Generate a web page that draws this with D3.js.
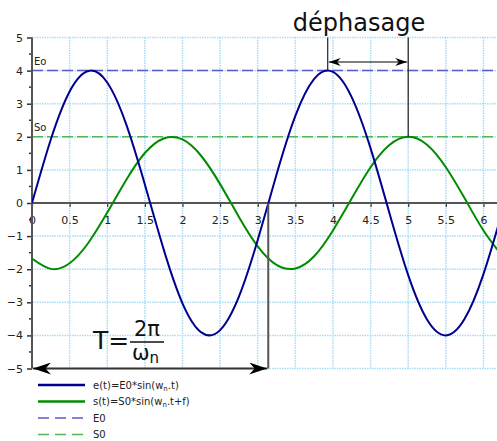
<!DOCTYPE html>
<html><head><meta charset="utf-8">
<script src="https://cdn.jsdelivr.net/npm/d3@7/dist/d3.min.js"></script>
<style>body{margin:0;background:#fff}svg{display:block;font-family:"DejaVu Sans",sans-serif}</style>
</head><body><svg id="c" width="497" height="441"></svg>
<script>
// data
const tValues = [0,0.25,0.5,0.75,1,1.25,1.5,1.75,2,2.25,2.5,2.75,3,3.25,3.5,3.75,4,4.25,4.5,4.75,5,5.25,5.5,5.75,6,6.25];
const eValues = [0,1.92,3.37,3.99,3.64,2.39,0.56,-1.40,-3.03,-3.91,-3.84,-2.83,-1.12,0.86,2.63,3.75,3.96,3.19,1.65,-0.30,-2.18,-3.52,-4.00,-3.50,-2.15,-0.26];
const sValues = [-1.68,-1.99,-1.82,-1.20,-0.29,0.69,1.51,1.95,1.92,1.42,0.57,-0.42,-1.31,-1.87,-1.98,-1.61,-0.83,0.14,1.08,1.75,2.00,1.76,1.08,0.14,-0.83,-1.60];
const E0 = 4, S0 = 2;
const xTicks = [0,0.5,1,1.5,2,2.5,3,3.5,4,4.5,5,5.5,6];
const yTicks = [-5,-4,-3,-2,-1,0,1,2,3,4,5];
const periodT = 3.14;          // T marker
const phaseStart = 3.93, phaseEnd = 5.0; // déphasage marker
const legendLabels = ["e(t)=E0*sin(w|n|.t)","s(t)=S0*sin(w|n|.t+f)","E0","S0"];

const svg = d3.select("#c");
const x = d3.scaleLinear().domain([0, 6.18]).range([32, 497]);
const y = d3.scaleLinear().domain([-5, 5]).range([368.5, 37.5]);

const defs = svg.append("defs");
defs.append("clipPath").attr("id","clip").append("rect")
  .attr("x",32).attr("y",30).attr("width",465).attr("height",345);
function arrow(id, w, h){
  const m = defs.append("marker").attr("id",id).attr("viewBox",`0 0 ${w} ${h}`)
   .attr("refX",w).attr("refY",h/2).attr("markerWidth",w).attr("markerHeight",h)
   .attr("markerUnits","userSpaceOnUse").attr("orient","auto-start-reverse");
  m.append("path").attr("d",`M0,0 L${w},${h/2} L0,${h} L${w*0.3},${h/2}Z`).attr("fill","#000");
}
arrow("big",18,12);
arrow("small",12,8);

// grid
const gridColor = "#a8dcf7";
svg.append("g").selectAll("line").data(xTicks.filter(d=>d>0)).join("line")
  .attr("x1",d=>x(d)).attr("x2",d=>x(d)).attr("y1",y(5)).attr("y2",y(-5))
  .attr("stroke",gridColor).attr("stroke-width",1.5).attr("stroke-dasharray","1.5,1");
svg.append("g").selectAll("line").data(yTicks).join("line")
  .attr("x1",x(0)).attr("x2",497).attr("y1",d=>y(d)).attr("y2",d=>y(d))
  .attr("stroke",gridColor).attr("stroke-width",1.5).attr("stroke-dasharray","1.5,1");

// reference dashed lines
svg.append("line").attr("x1",x(0)).attr("x2",497).attr("y1",y(E0)).attr("y2",y(E0))
  .attr("stroke","#5a5ac8").attr("stroke-width",1.5).attr("stroke-dasharray","11,4");
svg.append("line").attr("x1",x(0)).attr("x2",497).attr("y1",y(S0)).attr("y2",y(S0))
  .attr("stroke","#55b455").attr("stroke-width",1.5).attr("stroke-dasharray","11,4");

// axes
const yAxis = d3.axisLeft(y).tickValues(yTicks).tickSize(5).tickFormat(d3.format("d"));
const gy = svg.append("g").attr("transform",`translate(${x(0)},0)`).call(yAxis);
gy.select(".domain").remove();
gy.selectAll(".tick line").attr("stroke","#333").attr("stroke-width",1.5);
gy.selectAll(".tick text").attr("font-size",11).attr("fill","#222").attr("font-family","DejaVu Sans").attr("x",-9);
const yMinor = d3.range(-4.5,5,1);
svg.append("g").selectAll("line").data(yMinor).join("line")
  .attr("x1",x(0)-3).attr("x2",x(0)).attr("y1",d=>y(d)).attr("y2",d=>y(d)).attr("stroke","#333").attr("stroke-width",1.5);

const xAxis = d3.axisBottom(x).tickValues(xTicks).tickSize(4).tickFormat(d=>d3.format("~g")(d));
const gx = svg.append("g").attr("transform",`translate(0,${y(0)})`).call(xAxis);
gx.select(".domain").remove();
gx.selectAll(".tick line").attr("stroke","#333").attr("stroke-width",1.2);
gx.selectAll(".tick text").attr("font-size",11).attr("fill","#222").attr("font-family","DejaVu Sans").attr("y",13);

svg.append("line").attr("x1",x(0)).attr("x2",497).attr("y1",y(0)).attr("y2",y(0)).attr("stroke","#555").attr("stroke-width",2);
svg.append("line").attr("x1",x(0)).attr("x2",x(0)).attr("y1",y(5)).attr("y2",y(-5)).attr("stroke","#555").attr("stroke-width",2);

// curves
const pts = (vals)=>tValues.map((t,i)=>[t,vals[i]]);
const line = d3.line().x(d=>x(d[0])).y(d=>y(d[1])).curve(d3.curveNatural);
const curves = svg.append("g").attr("clip-path","url(#clip)");
curves.append("path").attr("d",line(pts(sValues))).attr("fill","none").attr("stroke","#008c00").attr("stroke-width",2);
curves.append("path").attr("d",line(pts(eValues))).attr("fill","none").attr("stroke","#00008f").attr("stroke-width",2);

// labels Eo / So
svg.append("text").attr("x",x(0)+2).attr("y",y(E0)-6).attr("font-size",10).attr("fill","#222").text("Eo");
svg.append("text").attr("x",x(0)+2).attr("y",y(S0)-6).attr("font-size",10).attr("fill","#222").text("So");

// déphasage
svg.append("line").attr("x1",x(phaseStart)).attr("x2",x(phaseStart)).attr("y1",y(5)).attr("y2",y(E0)).attr("stroke","#222").attr("stroke-width",1.2);
svg.append("line").attr("x1",x(phaseEnd)).attr("x2",x(phaseEnd)).attr("y1",y(5)).attr("y2",y(S0)).attr("stroke","#222").attr("stroke-width",1.2);
svg.append("line").attr("x1",x(phaseStart)+1).attr("x2",x(phaseEnd)-1).attr("y1",62).attr("y2",62)
  .attr("stroke","#000").attr("stroke-width",1.2).attr("marker-start","url(#small)").attr("marker-end","url(#small)");
svg.append("text").attr("x",359).attr("y",31).attr("text-anchor","middle")
  .attr("font-size",24).attr("fill","#111").text("déphasage");

// period T
svg.append("line").attr("x1",x(periodT)).attr("x2",x(periodT)).attr("y1",y(0)).attr("y2",y(-5)).attr("stroke","#555").attr("stroke-width",2);
svg.append("line").attr("x1",x(0)+1).attr("x2",x(periodT)-1).attr("y1",y(-5)).attr("y2",y(-5))
  .attr("stroke","#333").attr("stroke-width",2).attr("marker-start","url(#big)").attr("marker-end","url(#big)");
const tg = svg.append("g").attr("fill","#111");
tg.append("text").attr("x",93).attr("y",349).attr("font-size",25).text("T=");
tg.append("text").attr("x",147).attr("y",336).attr("text-anchor","middle").attr("font-size",21).text("2π");
tg.append("line").attr("x1",130).attr("x2",164).attr("y1",342).attr("y2",342).attr("stroke","#111").attr("stroke-width",1.3);
const om = tg.append("text").attr("x",132).attr("y",360).attr("font-size",21).text("ω");
om.append("tspan").attr("font-size",15).attr("dy",3).text("n");

// legend
const legColors = ["#00008f","#008c00","#5a5ac8","#55b455"];
const legDash = [null,null,"11,6","11,6"];
const legW = [2.5,2.5,1.5,1.5];
const lg = svg.append("g");
legendLabels.forEach((lab,i)=>{
  const yy = 385 + i*16.5;
  lg.append("line").attr("x1",38).attr("x2",85).attr("y1",yy).attr("y2",yy)
    .attr("stroke",legColors[i]).attr("stroke-width",legW[i]).attr("stroke-dasharray",legDash[i]);
  const t = lg.append("text").attr("x",93).attr("y",yy+3.5).attr("font-size",10).attr("fill","#222");
  const parts = lab.split("|");
  parts.forEach((p,j)=>{
    if(j%2===1) t.append("tspan").attr("font-size",7).attr("dy",2).text(p);
    else t.append("tspan").attr("dy", j>0?-2:0).text(p);
  });
});
</script></body></html>
